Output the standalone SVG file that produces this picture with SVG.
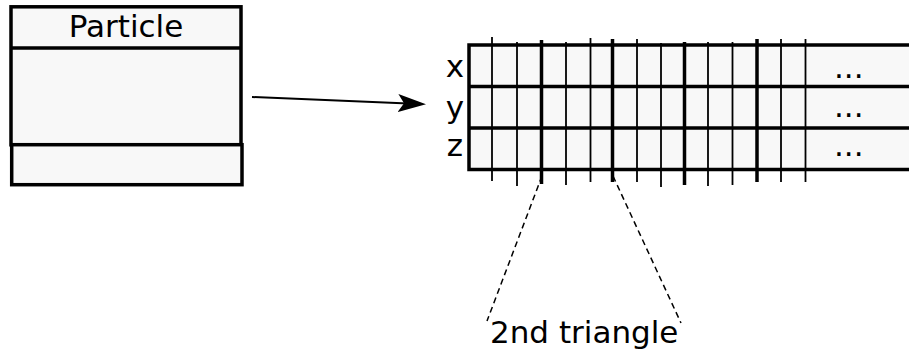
<svg xmlns="http://www.w3.org/2000/svg" width="909" height="352" viewBox="0 0 909 352">
  <style>
    .box { fill: #f8f8f8; stroke: #000; stroke-width: 3.5; }
    .t { font-family: "DejaVu Sans", sans-serif; font-size: 31px; fill: #000; }
    .thin { stroke: #000; stroke-width: 1.8; }
    .thick { stroke: #000; stroke-width: 3.5; }
    .dash { stroke: #000; stroke-width: 1.5; stroke-dasharray: 6 4; fill: none; }
  </style>
  <defs>
    <marker id="ah" viewBox="0 0 28 18" refX="22" refY="9" markerWidth="28" markerHeight="18" markerUnits="userSpaceOnUse" orient="auto">
      <path d="M28,9 L0,0 L6,9 L0,18 Z" fill="#000"/>
    </marker>
  </defs>
  <rect width="909" height="352" fill="#fff"/>

  <g id="particle">
    <rect class="box" x="11" y="6.8" width="230" height="138"/>
    <line class="thick" x1="11" y1="48" x2="241" y2="48"/>
    <rect class="box" x="11.7" y="144.7" width="230.3" height="40"/>
    <text class="t" x="126" y="37" text-anchor="middle">Particle</text>
  </g>

  <g id="array">
    <rect class="box" x="469" y="45" width="450" height="124.5"/>
    <line class="thick" x1="469" y1="86.5" x2="909" y2="86.5"/>
    <line class="thick" x1="469" y1="128" x2="909" y2="128"/>
    <line class="thin" x1="492" y1="37" x2="492" y2="181"/>
    <line class="thin" x1="517" y1="42" x2="517" y2="186"/>
    <line class="thick" x1="541.5" y1="40" x2="541.5" y2="184"/>
    <line class="thin" x1="566" y1="42" x2="566" y2="185"/>
    <line class="thin" x1="590.5" y1="38" x2="590.5" y2="182"/>
    <line class="thick" x1="612.5" y1="39" x2="612.5" y2="182"/>
    <line class="thin" x1="637" y1="39" x2="637" y2="182"/>
    <line class="thin" x1="661" y1="43" x2="661" y2="187"/>
    <line class="thick" x1="684.5" y1="42" x2="684.5" y2="185"/>
    <line class="thin" x1="708" y1="42" x2="708" y2="186"/>
    <line class="thin" x1="732.5" y1="42" x2="732.5" y2="185"/>
    <line class="thick" x1="757" y1="39" x2="757" y2="182"/>
    <line class="thin" x1="781" y1="39" x2="781" y2="182"/>
    <line class="thin" x1="805.5" y1="39" x2="805.5" y2="182"/>
    <text class="t" x="455" y="77" text-anchor="middle">x</text>
    <text class="t" x="455" y="118" text-anchor="middle">y</text>
    <text class="t" x="455" y="156" text-anchor="middle">z</text>
    <text class="t" x="834" y="78">...</text>
    <text class="t" x="834" y="117">...</text>
    <text class="t" x="834" y="156">...</text>
  </g>

  <g id="label">
    <text class="t" x="490" y="343">2nd triangle</text>
  </g>

  <g id="connectors">
    <line x1="252" y1="97" x2="420" y2="104" stroke="#000" stroke-width="2" marker-end="url(#ah)"/>
    <line class="dash" x1="542" y1="176" x2="487" y2="321"/>
    <line class="dash" x1="613" y1="176" x2="681" y2="323"/>
  </g>
</svg>
